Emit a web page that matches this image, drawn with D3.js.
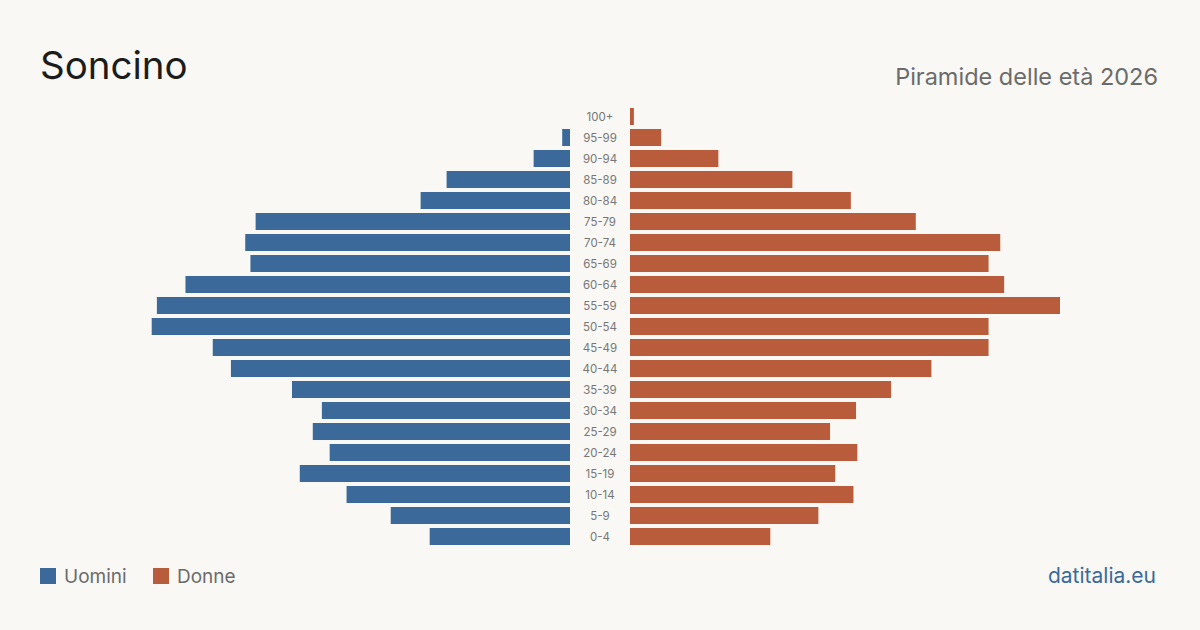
<!DOCTYPE html>
<html>
<head>
<meta charset="utf-8">
<script src="https://cdn.jsdelivr.net/npm/d3@7"></script>
<style>
  html, body { margin: 0; padding: 0; background: #f9f8f4; }
  svg { display: block; font-family: Inter, 'Liberation Sans', sans-serif; }
</style>
</head>
<body>
<div id="chart"></div>
<script>
// age groups, bottom to top
const ageGroups = ['0-4','5-9','10-14','15-19','20-24','25-29','30-34','35-39','40-44','45-49',
  '50-54','55-59','60-64','65-69','70-74','75-79','80-84','85-89','90-94','95-99','100+'];
const men   = [108,138,172,208,185,198,191,214,261,275,322,318,296,246,250,242,115,95,28,6,0];
const women = [108,145,172,158,175,154,174,201,232,276,276,331,288,276,285,220,170,125,68,24,3];

const width = 1200, height = 630;
const blue = '#3b6a9a', red = '#b95c3c';

let svg = d3.select('#chart').append('svg')
    .attr('width', width)
    .attr('height', height);

svg.append('rect').attr('width', width).attr('height', height).attr('fill', '#f9f8f4');

// title + subtitle
svg.append('text')
    .attr('x', 40).attr('y', 79)
    .attr('font-size', 38.5)
    .attr('fill', '#1c1c1c')
    .text('Soncino');

svg.append('text')
    .attr('x', 1158).attr('y', 85)
    .attr('text-anchor', 'end')
    .attr('font-size', 23.5)
    .attr('fill', '#6b6b6b')
    .text('Piramide delle età 2026');

// scales
let y = d3.scaleBand()
    .domain(ageGroups.slice().reverse())
    .range([106, 547])
    .paddingInner(0.19)
    .paddingOuter(0.095);

let x = d3.scaleLinear().domain([0, 331]).range([0, 430]);

const leftEdge = 570, rightEdge = 630;

// men bars
svg.append('g').selectAll('rect')
  .data(ageGroups)
  .join('rect')
    .attr('x', (d, i) => leftEdge - x(men[i]))
    .attr('y', d => y(d))
    .attr('width', (d, i) => x(men[i]))
    .attr('height', y.bandwidth())
    .attr('fill', blue);

// women bars
svg.append('g').selectAll('rect')
  .data(ageGroups)
  .join('rect')
    .attr('x', rightEdge)
    .attr('y', d => y(d))
    .attr('width', (d, i) => x(women[i]))
    .attr('height', y.bandwidth())
    .attr('fill', red);

// age labels
svg.append('g').selectAll('text')
  .data(ageGroups)
  .join('text')
    .attr('x', 600)
    .attr('y', d => y(d) + y.bandwidth() / 2)
    .attr('dy', '0.36em')
    .attr('text-anchor', 'middle')
    .attr('font-size', 11.5)
    .attr('fill', '#777')
    .text(d => d);

// legend
let legend = svg.append('g');
[['Uomini', blue, 40], ['Donne', red, 153]].forEach(function(l) {
  legend.append('rect')
      .attr('x', l[2]).attr('y', 568)
      .attr('width', 16).attr('height', 16)
      .attr('fill', l[1]);
  legend.append('text')
      .attr('x', l[2] + 24).attr('y', 583)
      .attr('font-size', 19)
      .attr('fill', '#6b6b6b')
      .text(l[0]);
});

svg.append('text')
    .attr('x', 1156).attr('y', 583)
    .attr('text-anchor', 'end')
    .attr('font-size', 21)
    .attr('fill', '#3b6a9a')
    .text('datitalia.eu');
</script>
</body>
</html>
